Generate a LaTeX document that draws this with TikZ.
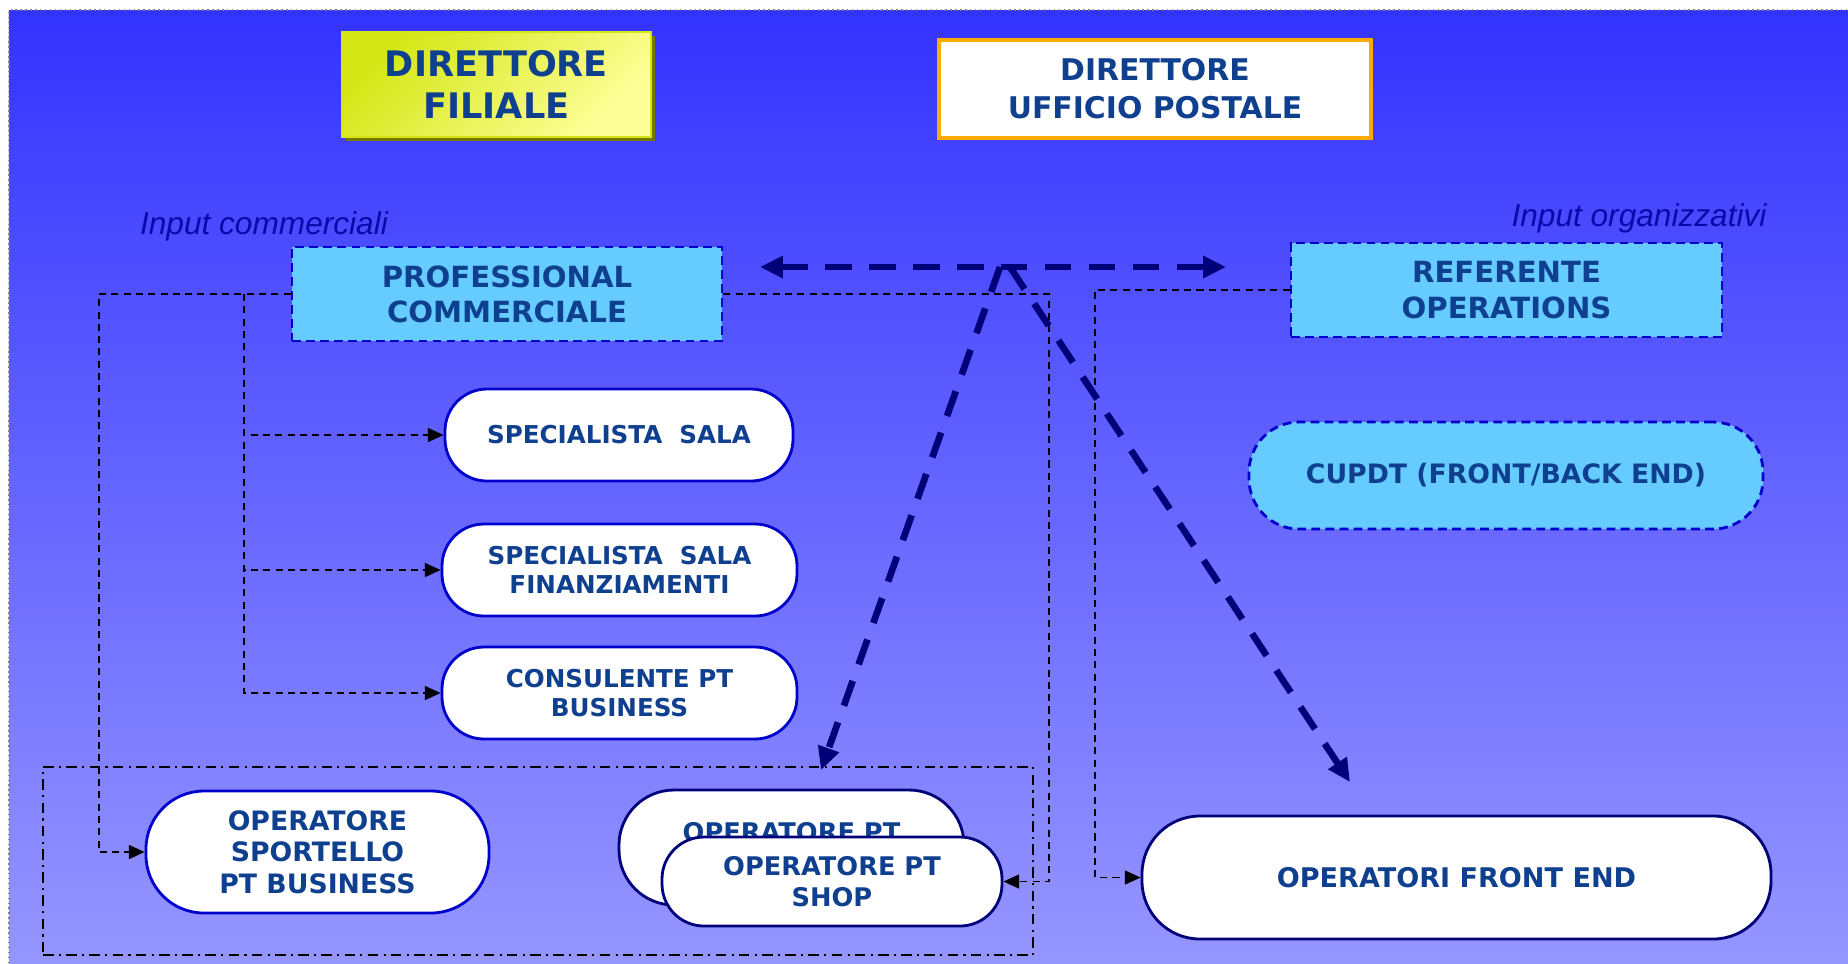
\documentclass[tikz,border=0pt]{standalone}
\usepackage{fontspec}
\setmainfont{DejaVu Sans}
\newfontfamily\notefont{Liberation Sans}
\usetikzlibrary{arrows.meta,shadows}
\definecolor{bgtop}{RGB}{51,51,255}
\definecolor{bgbottom}{RGB}{150,150,255}
\definecolor{txtblue}{RGB}{15,63,143}
\definecolor{lineblue}{RGB}{0,0,204}
\definecolor{navy}{RGB}{0,0,120}
\definecolor{boxcyan}{RGB}{102,204,255}
\definecolor{orangeline}{RGB}{255,170,0}
\definecolor{notecolor}{RGB}{10,10,170}
\definecolor{yellowA}{RGB}{212,230,20}
\definecolor{yellowB}{RGB}{255,255,153}
\definecolor{olive}{RGB}{120,120,0}

\begin{document}
\begin{tikzpicture}[head box/.style={draw, inner sep=0pt, align=center, text=txtblue, font=\bfseries\fontsize{8.3}{10}\selectfont},
cyan box/.style={head box, fill=boxcyan, draw=lineblue, line width=0.8pt, dash pattern=on 2.5pt off 1.5pt},
pill/.style={draw=lineblue, fill=white, line width=0.8pt, rounded corners=0.42cm, align=center, text=txtblue, inner sep=0pt, font=\bfseries\fontsize{7}{8.2}\selectfont},
link/.style={black, line width=0.45pt, dash pattern=on 2pt off 1.5pt, -{Triangle[length=4.5pt,width=4pt]}},
flow/.style={navy, line width=1.9pt, dash pattern=on 7.5pt off 5pt, -{Triangle[length=6.5pt,width=6pt]}},
note/.style={text=notecolor, font=\notefont\itshape\fontsize{9}{11}\selectfont}]
\path[use as bounding box, fill=white] (0,0) rectangle (18.48,-9.63);
\shade[top color=bgtop, bottom color=bgbottom] (0.09,-0.10) rectangle (18.48,-9.63);
\draw[gray, densely dotted, line width=0.4pt] (0.09,-9.63) |- (18.48,-0.10);

\node[head box, minimum width=3.09cm, minimum height=1.05cm, draw=yellowA, line width=0.3pt, top color=yellowA, bottom color=yellowB, shading angle=45, drop shadow={shadow xshift=0.035cm, shadow yshift=-0.035cm, fill=olive, opacity=1}, font=\bfseries\fontsize{10}{11.7}\selectfont] (dirfil) at (4.965,-0.845) {DIRETTORE\\FILIALE};
\node[head box, minimum width=4.32cm, minimum height=0.98cm, draw=orangeline, line width=1.1pt, fill=white, font=\bfseries\fontsize{8.5}{10.8}\selectfont] (dirup) at (11.55,-0.89) {DIRETTORE\\UFFICIO POSTALE};

\node[note] (inpcom) at (2.64,-2.26) {Input commerciali};
\node[note] (inporg) at (16.39,-2.18) {Input organizzativi};

\node[cyan box, minimum width=4.30cm, minimum height=0.94cm] (procom) at (5.07,-2.94) {PROFESSIONAL\\COMMERCIALE};
\node[cyan box, minimum width=4.31cm, minimum height=0.94cm] (refop) at (15.065,-2.90) {REFERENTE\\OPERATIONS};

\node[pill, minimum width=3.48cm, minimum height=0.92cm] (specsala) at (6.19,-4.35) {SPECIALISTA\ \ SALA};
\node[pill, minimum width=3.55cm, minimum height=0.92cm] (specfin) at (6.195,-5.70) {SPECIALISTA\ \ SALA\\FINANZIAMENTI};
\node[pill, minimum width=3.55cm, minimum height=0.92cm] (consbiz) at (6.195,-6.93) {CONSULENTE PT\\BUSINESS};
\node[pill, fill=boxcyan, dash pattern=on 2.5pt off 1.5pt, rounded corners=0.5cm, minimum width=5.14cm, minimum height=1.07cm, font=\bfseries\fontsize{7.6}{9}\selectfont] (cupdt) at (15.06,-4.755) {CUPDT (FRONT/BACK END)};

\node[draw, line width=0.45pt, dash pattern=on 3pt off 1.5pt on 0.6pt off 1.5pt, minimum width=9.90cm, minimum height=1.88cm, inner sep=0pt] (sportelli) at (5.38,-8.61) {};
\node[pill, rounded corners=0.58cm, minimum width=3.43cm, minimum height=1.22cm, font=\bfseries\fontsize{7.6}{9}\selectfont] (opsport) at (3.175,-8.52) {OPERATORE\\SPORTELLO\\PT BUSINESS};
\node[pill, draw=navy, rounded corners=0.55cm, minimum width=3.45cm, minimum height=1.15cm, font=\bfseries\fontsize{7.3}{8.7}\selectfont] (opback) at (7.915,-8.475) {OPERATORE PT\\\phantom{SHOP}};
\node[pill, draw=navy, minimum width=3.40cm, minimum height=0.89cm, font=\bfseries\fontsize{7.3}{8.7}\selectfont] (opshop) at (8.32,-8.815) {OPERATORE PT\\SHOP};
\node[pill, draw=navy, rounded corners=0.58cm, minimum width=6.29cm, minimum height=1.23cm, font=\bfseries\fontsize{7.7}{9}\selectfont] (opfront) at (14.565,-8.775) {OPERATORI FRONT END};

\coordinate (tap) at (2.44,-2.94);
\draw[link] (procom.west) -- (0.99,-2.94) |- (opsport.west);
\draw[link] (tap) |- (specsala.west);
\draw[link] (tap) |- (specfin.west);
\draw[link] (tap) |- (consbiz.west);
\draw[link] (procom.east) -- (10.49,-2.94) |- (opshop.east);
\draw[link] (refop.west) -- (10.95,-2.90) |- (opfront.west);

\coordinate (fl) at (7.60,-2.67);
\coordinate (fr) at (12.26,-2.67);
\coordinate (jl) at (10.00,-2.67);
\coordinate (jr) at (10.10,-2.67);
\coordinate (arrivo) at (8.21,-7.70);
\coordinate (fine) at (13.50,-7.82);
\draw[flow, {Triangle[length=6.5pt,width=6pt]}-{Triangle[length=6.5pt,width=6pt]}] (fl) -- (fr);
\draw[flow] (jl) -- (arrivo);
\draw[flow] (jr) -- (fine);
\end{tikzpicture}
\end{document}
